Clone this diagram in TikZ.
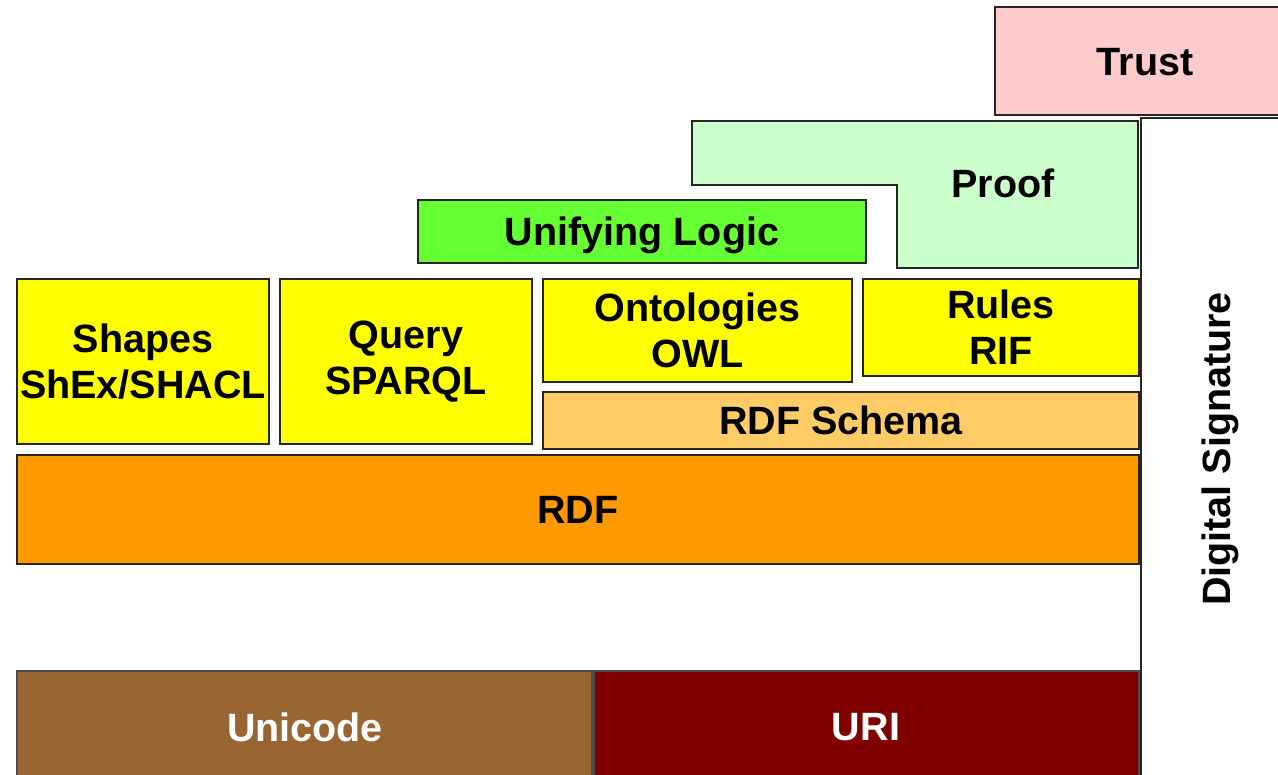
\documentclass[tikz,border=0pt]{standalone}
\usepackage{fontspec}
\setmainfont{Liberation Sans}
\definecolor{ctrust}{HTML}{FFCCCC}
\definecolor{cproof}{HTML}{CCFFCC}
\definecolor{clogic}{HTML}{66FF33}
\definecolor{cyel}{HTML}{FFFF00}
\definecolor{cschema}{HTML}{FFCC66}
\definecolor{crdf}{HTML}{FF9900}
\definecolor{cuni}{HTML}{996633}
\definecolor{curi}{HTML}{800000}
\tikzset{
  edge/.style={draw=black!85, line width=1.6pt},
  box/.style={edge, rectangle, inner sep=0pt, align=center},
  lbl/.style={inner sep=0pt, align=center, font=\fontsize{39.5}{46}\selectfont\bfseries},
}
\begin{document}
\begin{tikzpicture}[x=1pt,y=-1pt]
\useasboundingbox (0,0) rectangle (1278,775);
% Trust
\path[edge, fill=ctrust] (995,7) rectangle (1300,115);
\node[lbl] (trust) at (1145,62) {Trust};
% Digital signature column
\path[edge, fill=white] (1141,118) rectangle (1300,800);
\node[lbl, rotate=90] (sig) at (1220,449) {Digital Signature};
% Proof L-shape
\path[edge, fill=cproof] (692,121) -- (1138,121) -- (1138,268) -- (897,268) -- (897,185) -- (692,185) -- cycle;
\node[lbl] (proof) at (1003,183) {Proof};
% Unifying logic
\node[box, lbl, fill=clogic, minimum width=448pt, minimum height=63pt, text depth=0pt] (logic) at (642,231.5) {Unifying Logic};
% Yellow row
\node[box, lbl, fill=cyel, minimum width=252pt, minimum height=165pt] (shapes) at (143,361.5) {Shapes\\ShEx/SHACL};
\node[box, lbl, fill=cyel, minimum width=252pt, minimum height=165pt] (query) at (406,361.5) {Query\\SPARQL};
\node[box, lbl, fill=cyel, minimum width=309pt, minimum height=103pt] (onto) at (697.5,330.5) {Ontologies\\OWL};
\node[box, lbl, fill=cyel, minimum width=276pt, minimum height=97pt] (rules) at (1001,327.5) {Rules\\RIF};
% RDF Schema
\node[box, lbl, fill=cschema, minimum width=596pt, minimum height=57pt] (schema) at (841,420.5) {RDF Schema};
% RDF
\node[box, lbl, fill=crdf, minimum width=1122pt, minimum height=109pt] (rdf) at (578,509.5) {RDF};
% Unicode / URI
\path[draw=black!70, line width=1.2pt, fill=cuni] (17,671) rectangle (592,800);
\path[draw=black!70, line width=1.2pt, fill=curi] (594,671) rectangle (1139,800);
\node[lbl, text=white] (unicode) at (305,727) {Unicode};
\node[lbl, text=white] (uri) at (866,727) {URI};
\end{tikzpicture}
\end{document}
